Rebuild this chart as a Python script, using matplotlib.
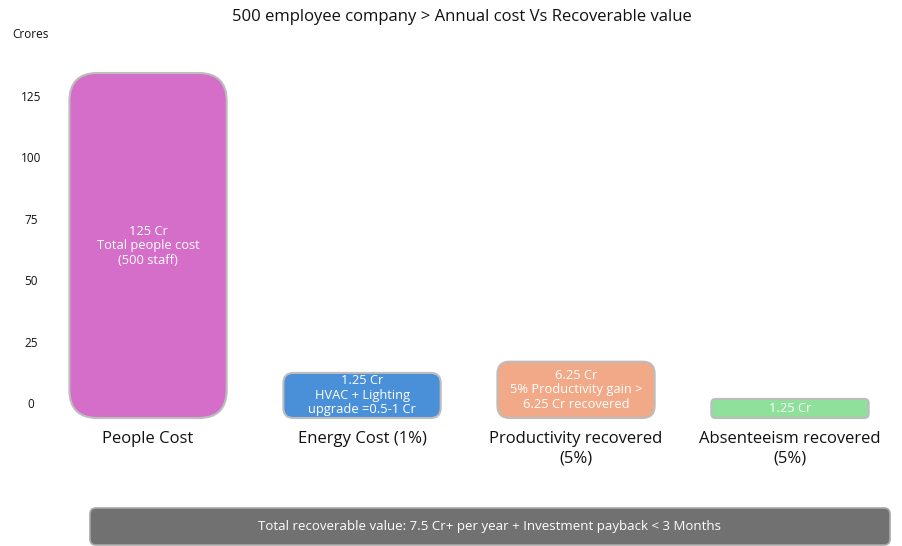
import matplotlib
matplotlib.use("Agg")
import matplotlib.pyplot as plt
from matplotlib.patches import FancyBboxPatch

plt.rcParams['font.family'] = ['Open Sans', 'DejaVu Sans']

# data
categories = ["People Cost", "Energy Cost (1%)", "Productivity recovered\n(5%)", "Absenteeism recovered\n(5%)"]
values = [125, 1.25, 6.25, 1.25]
bar_texts = ["125 Cr\nTotal people cost\n(500 staff)",
             "1.25 Cr\nHVAC + Lighting\nupgrade =0.5-1 Cr",
             "6.25 Cr\n5% Productivity gain >\n6.25 Cr recovered",
             "1.25 Cr"]
yticks = [0, 25, 50, 75, 100, 125]
title = "500 employee company > Annual cost Vs Recoverable value"
footer = "Total recoverable value: 7.5 Cr+ per year + Investment payback < 3 Months"

# style
colors = ["#D46EC8", "#4A90D9", "#F2A987", "#8EE09A"]
top_pad_px = [23, 27, 26, 1]   # box extends above value (room for text)
bottom_pad_px = 15
bar_width = 0.735

W, H = 903, 546
fig = plt.figure(figsize=(W / 100, H / 100), dpi=100)
ax = fig.add_axes([40 / W, (H - 420) / H, 860 / W, 360 / H])
ax.set_xlim(-0.505, 3.514)
ax.set_ylim(-6.92, 139.66)
for s in ax.spines.values():
    s.set_visible(False)
ax.set_xticks([])
ax.set_yticks(yticks)
ax.tick_params(axis='y', length=0, pad=6.5, labelsize=8.5, labelcolor='#111111')
for lab in ax.get_yticklabels():
    lab.set_horizontalalignment('center')

# px per data unit
p0 = ax.transData.transform((0, 0))
p1 = ax.transData.transform((1, 1))
sx, sy = p1[0] - p0[0], p1[1] - p0[1]

for i, (v, txt, c) in enumerate(zip(values, bar_texts, colors)):
    y0 = -bottom_pad_px / sy
    y1 = v + top_pad_px[i] / sy
    h_px = (y1 - y0) * sy
    r_px = min(28, 0.22 * h_px)
    box = FancyBboxPatch((i - bar_width / 2, y0), bar_width, y1 - y0,
                         boxstyle=f"round,pad=0,rounding_size={r_px / sx}",
                         mutation_aspect=sx / sy,
                         facecolor=c, edgecolor="#BDBDBD", linewidth=1.5, clip_on=False)
    ax.add_patch(box)
    ax.text(i, (y0 + y1) / 2, txt, ha='center', va='center', color='white',
            fontsize=9.3, linespacing=1.15)
    ax.text(i, y0 - 13 / sy, categories[i], ha='center', va='top', color='#111111',
            fontsize=12, linespacing=1.25)

fig.text(462 / W, 1 - 17 / H, title, ha='center', va='center', fontsize=12, color='#111111')
fig.text(30 / W, 1 - 34 / H, "Crores", ha='center', va='center', fontsize=8.5, color='#111111')

# footer banner
fax = fig.add_axes([0, 0, 1, 1], zorder=-1)
fax.set_xlim(0, W)
fax.set_ylim(H, 0)
fax.axis('off')
fax.add_patch(FancyBboxPatch((90, 508), 800, 37, boxstyle="round,pad=0,rounding_size=6",
                             facecolor="#717171", edgecolor="#A8A8A8", linewidth=1.2))
fax.text(490, 526.5, footer, ha='center', va='center', color='white', fontsize=9.5)

fig.savefig("out.png", dpi=100)
